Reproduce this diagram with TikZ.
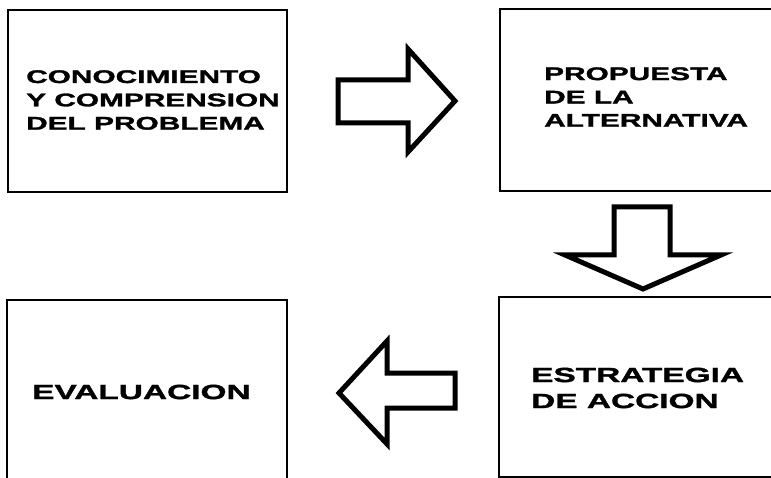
\documentclass[tikz,border=0pt]{standalone}
\usepackage{fontspec}
\newfontfamily\widefont{Liberation Sans}[FakeStretch=1.63,FakeBold=1.6]
\begin{document}
\begin{tikzpicture}[x=1pt,y=-1pt,
  box/.style={draw=black,line width=2.8pt,fill=white},
  blockarrow/.style={draw=black,line width=5pt,line join=miter,fill=white},
  lbl/.style={inner sep=0pt,anchor=west,align=left,font=\widefont\bfseries}]
\useasboundingbox (0,0) rectangle (771,478);
% boxes
\draw[box] (8,10) rectangle (287,192);
\draw[box] (500,9) rectangle (776,191);
\draw[box] (499,297) rectangle (776,477);
\draw[box] (7,300) rectangle (287,490);
% labels
\node[lbl,font=\widefont\bfseries\fontsize{18.3}{23.3}\selectfont] (t1) at (26,100)
  {CONOCIMIENTO\\Y COMPRENSION\\DEL PROBLEMA};
\node[lbl,font=\widefont\bfseries\fontsize{18.3}{23.3}\selectfont] (t2) at (544,97)
  {PROPUESTA\\DE LA\\ALTERNATIVA};
\node[lbl,font=\widefont\bfseries\fontsize{20.5}{26}\selectfont] (t3) at (531,388)
  {ESTRATEGIA\\DE ACCION};
\node[lbl,font=\widefont\bfseries\fontsize{20.5}{26}\selectfont] (t4) at (32,392)
  {EVALUACION};
% block arrows
\draw[blockarrow] (338,80) -- (408,80) -- (408,49) -- (455,101) -- (408,152) -- (408,123) -- (338,123) -- cycle;
\draw[blockarrow] (614,207) -- (670,207) -- (670,255) -- (721,255) -- (643,289) -- (565,255) -- (614,255) -- cycle;
\draw[blockarrow] (339,393) -- (387,341) -- (387,373) -- (455,373) -- (455,408) -- (387,408) -- (387,444) -- cycle;
\end{tikzpicture}
\end{document}
